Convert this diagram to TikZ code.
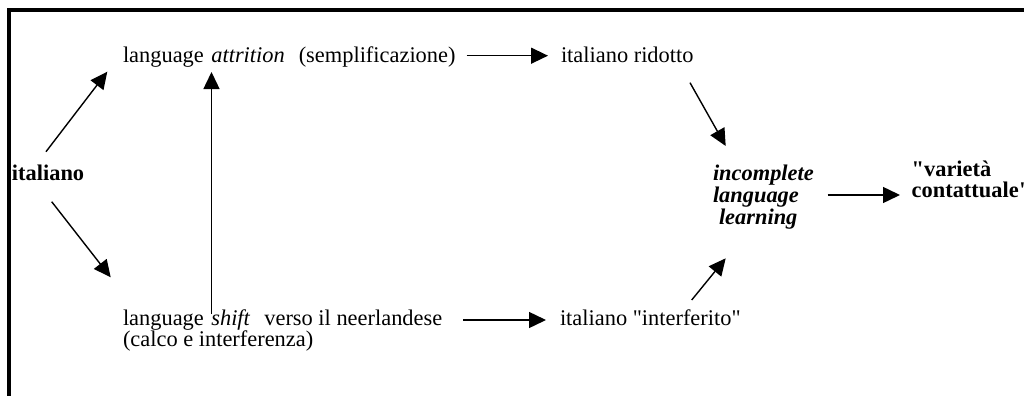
\documentclass[tikz,border=0pt]{standalone}
\usepackage{fontspec}
\setmainfont{Liberation Serif}[Ligatures=TeXOff]
\usetikzlibrary{arrows.meta}
\begin{document}
\begin{tikzpicture}[x=1pt,y=-1pt,
  lbl/.style={inner sep=0pt, outer sep=0pt, anchor=base west,
    font=\fontsize{22.4pt}{22pt}\selectfont},
  link/.style={line width=1.4pt, -{Triangle[length=17pt,width=16pt]}},
  frameline/.style={line width=4pt}]
\useasboundingbox (0,0) rectangle (1024,396);

% open frame: top and left edges only
\draw[frameline] (1024,10) -- (9,10) -- (9,396);

% texts
\node[lbl] (ital) at (12,180) {\textbf{italiano}};
\node[lbl] (attr) at (123,63) {language\hspace{7.5pt}\textit{attrition}\hspace{14pt}(semplificazione)};
\node[lbl] (rid) at (561,63) {italiano ridotto};
\node[lbl] (shift) at (123,325) {\begin{tabular}[t]{@{}l@{}}language\hspace{7.5pt}\textit{shift}\hspace{14pt}verso il neerlandese\\[-1pt](calco e interferenza)\end{tabular}};
\node[lbl] (intf) at (560,325) {italiano "interferito"};
\node[lbl] (inc) at (713,180.7) {\bfseries\itshape\begin{tabular}[t]{@{}l@{}}incomplete\\language\\\hspace*{6pt}learning\end{tabular}};
\node[lbl] (var) at (911.7,176) {\bfseries\begin{tabular}[t]{@{}l@{}}"varietà\\[-0.5pt]contattuale"\end{tabular}};

% connectors
\draw[link] ([shift={(34,-28.3)}]ital.base west) -- ([shift={(-15.7,8.7)}]attr.base west);
\draw[link] ([shift={(39.7,21.7)}]ital.base west) -- ([shift={(-12.3,-47.7)}]shift.base west);
\draw[link] ([shift={(88.5,-11)}]shift.base west) -- ([shift={(88.5,9)}]attr.base west);
\draw[link] ([shift={(343.7,-7.3)}]attr.base west) -- ([shift={(-13,-7.3)}]rid.base west);
\draw[link] ([shift={(340,-5)}]shift.base west) -- ([shift={(-14,-5)}]intf.base west);
\draw[link] ([shift={(129,19.7)}]rid.base west) -- ([shift={(12.7,-34.7)}]inc.base west);
\draw[link] ([shift={(131.7,-25)}]intf.base west) -- ([shift={(12.7,77.6)}]inc.base west);
\draw[link] ([shift={(114.7,14.3)}]inc.base west) -- ([shift={(-11.7,19)}]var.base west);
\end{tikzpicture}
\end{document}
